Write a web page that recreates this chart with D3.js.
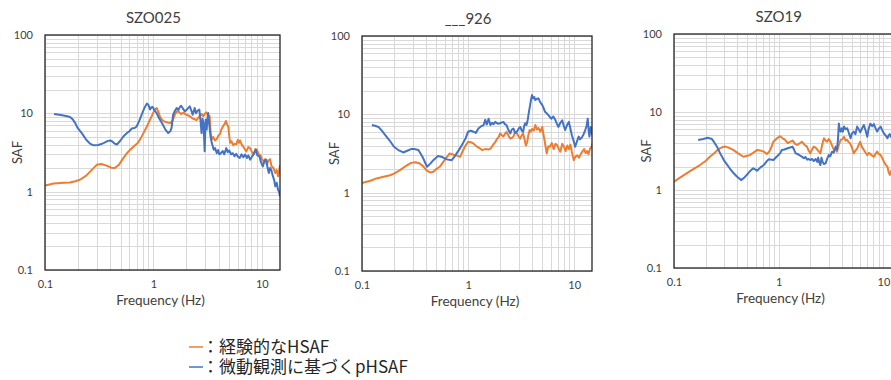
<!DOCTYPE html>
<html>
<head>
<meta charset="utf-8">
<script src="https://cdn.jsdelivr.net/npm/d3@7"></script>
<style>
  html, body { margin: 0; padding: 0; background: #fff; }
  svg { display: block; }
</style>
</head>
<body>
<svg id="chart" width="891" height="380"></svg>
<script>
// Station titles
const stationTitles = ["SZO025", "___926", "SZO19"];

// Axis tick labels
const xTickValues = [0.1, 1, 10];
const xTickLabels = ["0.1", "1", "10"];
const yTickValues = [0.1, 1, 10, 100];
const yTickLabels = ["0.1", "1", "10", "100"];

// Legend texts
const legendLabels = ["：経験的なHSAF", "：微動観測に基づくpHSAF"];

// SZO025 — empirical HSAF  [frequency Hz, SAF]
const hsafSZO025 = [[0.1,1.2],[0.12,1.27],[0.15,1.3],[0.17,1.31],[0.19,1.36],[0.21,1.42],[0.24,1.6],[0.27,1.9],[0.3,2.2],[0.33,2.26],[0.37,2.15],[0.41,2.02],[0.44,2.0],[0.48,2.2],[0.52,2.6],[0.57,3.1],[0.62,3.5],[0.67,3.85],[0.72,4.2],[0.77,4.9],[0.82,5.8],[0.87,6.8],[0.92,8.0],[0.96,9.1],[1.0,10.3],[1.04,11.3],[1.07,11.7],[1.11,10.5],[1.15,9.0],[1.2,8.3],[1.25,7.9],[1.33,7.7],[1.42,7.5],[1.5,8.0],[1.56,9.3],[1.64,10.6],[1.72,10.4],[1.8,9.8],[1.89,10.2],[2.0,9.6],[2.1,9.4],[2.2,9.0],[2.3,8.6],[2.4,8.4],[2.5,8.2],[2.6,8.8],[2.7,9.4],[2.78,9.8],[2.88,9.2],[2.98,9.9],[3.08,10.3],[3.18,9.4],[3.3,9.2],[3.36,6.0],[3.43,4.6],[3.55,5.0],[3.7,4.5],[3.84,4.7],[3.97,5.2],[4.1,5.4],[4.25,6.3],[4.4,6.9],[4.55,7.4],[4.66,8.0],[4.78,7.2],[4.9,6.8],[5.0,5.2],[5.1,4.2],[5.25,4.4],[5.45,3.9],[5.65,4.1],[5.8,4.0],[6.0,4.6],[6.15,4.2],[6.3,4.5],[6.5,4.0],[6.7,3.8],[6.95,3.5],[7.2,3.27],[7.5,3.7],[7.8,3.6],[8.1,3.2],[8.4,3.0],[8.7,3.5],[9.0,3.43],[9.35,3.0],[9.7,2.9],[10.0,2.6],[10.4,2.44],[10.75,2.6],[11.1,2.2],[11.5,2.5],[11.9,2.6],[12.3,2.1],[12.8,2.0],[13.3,1.73],[13.7,1.9],[14.1,1.57],[14.4,1.8],[14.7,2.2]];

// SZO025 — microtremor-based pHSAF
const phsafSZO025 = [[0.121,9.8],[0.14,9.5],[0.16,9.2],[0.17,9.0],[0.18,8.4],[0.19,7.5],[0.2,6.5],[0.22,5.5],[0.24,4.6],[0.26,4.1],[0.28,3.9],[0.31,3.95],[0.33,4.05],[0.35,4.2],[0.38,4.45],[0.4,4.5],[0.42,4.35],[0.44,4.1],[0.46,4.0],[0.49,4.4],[0.53,5.1],[0.57,5.6],[0.6,5.9],[0.63,6.4],[0.67,6.5],[0.7,6.8],[0.74,8.0],[0.78,9.6],[0.82,11.5],[0.87,13.3],[0.9,12.8],[0.93,11.2],[0.96,12.0],[0.98,12.1],[1.02,11.0],[1.07,10.1],[1.11,9.0],[1.15,8.3],[1.22,7.2],[1.29,6.2],[1.37,5.6],[1.43,5.9],[1.47,6.5],[1.52,9.6],[1.58,10.8],[1.64,11.7],[1.7,11.0],[1.75,12.0],[1.8,12.5],[1.87,11.5],[1.95,10.6],[2.05,11.3],[2.16,12.3],[2.23,11.0],[2.3,9.6],[2.35,10.5],[2.4,11.7],[2.47,10.0],[2.55,10.8],[2.65,11.2],[2.72,8.0],[2.78,5.6],[2.84,8.5],[2.9,7.3],[2.97,3.27],[3.03,8.3],[3.07,7.0],[3.1,6.2],[3.15,8.5],[3.2,10.1],[3.28,7.0],[3.36,5.1],[3.45,4.2],[3.6,3.43],[3.7,3.6],[3.84,3.1],[3.95,3.4],[4.05,3.0],[4.2,3.1],[4.35,3.3],[4.5,3.0],[4.7,3.6],[4.85,3.2],[5.0,3.35],[5.2,3.0],[5.4,3.1],[5.6,2.83],[5.8,3.05],[6.0,2.8],[6.25,2.7],[6.5,3.0],[6.75,2.75],[7.0,2.97],[7.3,2.7],[7.5,2.9],[7.8,2.56],[8.1,2.8],[8.4,3.0],[8.8,3.43],[9.1,2.9],[9.5,2.83],[9.8,2.4],[10.2,2.1],[10.6,2.5],[11.0,2.56],[11.3,2.0],[11.6,1.73],[11.9,2.0],[12.2,1.9],[12.6,1.6],[13.0,1.4],[13.3,1.17],[13.7,1.3],[14.1,1.06],[14.4,1.0],[14.7,0.87]];

// ___926 — empirical HSAF
const hsaf926 = [[0.1,1.33],[0.12,1.42],[0.137,1.52],[0.16,1.6],[0.184,1.67],[0.2,1.75],[0.228,1.94],[0.26,2.2],[0.29,2.4],[0.32,2.45],[0.35,2.36],[0.38,2.15],[0.41,1.9],[0.44,1.81],[0.47,1.85],[0.5,2.0],[0.54,2.14],[0.6,2.6],[0.67,3.17],[0.71,3.1],[0.75,3.0],[0.8,2.95],[0.84,2.87],[0.89,3.4],[0.93,3.85],[0.97,4.2],[1.0,4.46],[1.06,4.4],[1.12,4.25],[1.2,3.9],[1.28,3.7],[1.35,3.5],[1.45,3.6],[1.56,3.55],[1.64,3.7],[1.72,4.1],[1.8,4.4],[1.88,4.9],[1.95,5.2],[2.0,5.7],[2.08,5.4],[2.15,5.2],[2.22,5.6],[2.3,6.0],[2.4,5.3],[2.5,4.9],[2.58,5.0],[2.67,5.2],[2.77,5.9],[2.88,5.7],[3.0,5.2],[3.1,4.9],[3.2,5.4],[3.3,5.7],[3.4,4.8],[3.5,4.0],[3.6,4.4],[3.7,5.5],[3.8,6.3],[3.9,6.0],[4.0,6.5],[4.15,6.2],[4.3,7.3],[4.45,6.4],[4.6,6.7],[4.8,6.0],[5.0,6.9],[5.1,5.8],[5.2,5.0],[5.35,4.0],[5.5,3.17],[5.7,3.9],[5.9,3.85],[6.15,4.3],[6.4,3.6],[6.65,4.2],[6.9,4.05],[7.15,3.6],[7.4,3.33],[7.7,4.2],[8.0,3.85],[8.3,3.4],[8.6,4.0],[8.9,3.6],[9.2,4.1],[9.5,3.3],[9.9,2.6],[10.3,2.9],[10.7,3.0],[11.1,2.8],[11.5,3.1],[12.0,3.4],[12.4,3.6],[12.8,3.2],[13.2,3.4],[13.6,3.1],[14.1,3.67],[14.5,3.8],[14.8,4.2]];

// ___926 — microtremor-based pHSAF
const phsaf926 = [[0.124,7.3],[0.135,7.1],[0.143,6.9],[0.155,6.1],[0.17,5.2],[0.185,4.5],[0.2,3.85],[0.22,3.5],[0.245,3.26],[0.27,3.45],[0.29,3.6],[0.31,3.6],[0.34,3.5],[0.37,2.9],[0.41,2.14],[0.44,2.35],[0.47,2.6],[0.52,2.93],[0.57,2.85],[0.63,2.66],[0.7,2.6],[0.74,2.85],[0.78,3.17],[0.84,3.7],[0.89,4.25],[0.95,5.0],[1.0,6.0],[1.06,6.2],[1.12,6.0],[1.18,5.8],[1.25,6.6],[1.32,7.0],[1.4,7.3],[1.45,8.5],[1.5,7.4],[1.56,8.8],[1.62,7.3],[1.68,7.8],[1.74,7.5],[1.8,8.0],[1.9,7.6],[2.0,7.7],[2.08,7.9],[2.15,8.0],[2.22,7.5],[2.3,7.3],[2.4,6.3],[2.5,5.7],[2.58,6.4],[2.67,6.6],[2.77,5.8],[2.88,6.0],[3.0,6.6],[3.1,6.9],[3.2,6.2],[3.3,6.0],[3.38,7.2],[3.45,7.7],[3.55,7.3],[3.65,8.6],[3.75,11.0],[3.84,13.1],[3.92,15.5],[4.0,17.6],[4.1,16.0],[4.2,16.6],[4.3,15.2],[4.45,15.8],[4.6,16.0],[4.75,14.5],[5.0,13.1],[5.15,12.0],[5.3,10.8],[5.5,10.3],[5.7,9.8],[5.9,9.2],[6.1,8.8],[6.35,9.4],[6.6,8.6],[6.85,7.6],[7.1,6.9],[7.4,7.8],[7.7,8.4],[7.95,7.2],[8.2,6.3],[8.55,7.3],[8.9,8.0],[9.2,6.6],[9.5,5.4],[9.85,4.6],[10.2,3.85],[10.6,4.5],[11.0,5.2],[11.35,4.8],[11.7,5.0],[12.2,5.5],[12.7,6.3],[13.1,7.2],[13.4,8.8],[13.7,6.0],[13.9,5.2],[14.3,6.9],[14.6,6.2],[14.8,5.4]];

// SZO19 — empirical HSAF
const hsafSZO19 = [[0.1,1.28],[0.115,1.45],[0.132,1.63],[0.15,1.82],[0.177,2.09],[0.2,2.35],[0.22,2.67],[0.245,3.0],[0.266,3.35],[0.29,3.55],[0.31,3.6],[0.34,3.45],[0.37,3.25],[0.41,2.95],[0.46,2.67],[0.5,2.75],[0.53,2.8],[0.57,3.0],[0.62,3.25],[0.67,3.2],[0.72,3.1],[0.77,2.9],[0.81,3.1],[0.84,3.4],[0.89,4.16],[0.96,4.6],[1.03,4.9],[1.09,4.6],[1.15,4.4],[1.22,4.0],[1.29,4.16],[1.36,4.3],[1.43,3.9],[1.5,3.78],[1.58,3.95],[1.66,4.16],[1.76,3.8],[1.86,3.6],[1.93,3.2],[2.0,2.95],[2.08,3.3],[2.16,3.6],[2.25,3.5],[2.33,3.3],[2.42,3.1],[2.5,2.95],[2.6,3.8],[2.7,4.6],[2.8,4.3],[2.9,4.16],[3.0,4.5],[3.1,4.2],[3.23,3.7],[3.37,3.25],[3.5,3.3],[3.6,3.1],[3.75,3.8],[3.9,4.4],[4.05,4.5],[4.2,4.8],[4.35,4.3],[4.5,4.4],[4.65,4.1],[4.8,3.97],[5.0,3.5],[5.2,2.95],[5.4,3.2],[5.6,3.4],[5.8,3.8],[6.0,4.16],[6.2,3.6],[6.5,3.25],[6.75,3.0],[7.0,2.8],[7.25,3.0],[7.5,2.9],[7.8,2.75],[8.1,2.67],[8.4,2.9],[8.7,3.1],[9.0,2.9],[9.4,2.8],[9.7,2.6],[10.1,2.3],[10.5,2.1],[10.9,1.99],[11.2,1.7],[11.5,1.56],[11.8,1.75],[12.1,1.8],[12.6,1.7],[13.2,1.9],[13.8,1.8],[14.7,1.9]];

// SZO19 — microtremor-based pHSAF
const phsafSZO19 = [[0.17,4.37],[0.19,4.5],[0.21,4.68],[0.23,4.5],[0.24,4.16],[0.26,3.5],[0.276,2.95],[0.3,2.4],[0.34,1.9],[0.37,1.65],[0.4,1.48],[0.44,1.34],[0.47,1.45],[0.51,1.63],[0.54,1.78],[0.57,1.9],[0.6,1.82],[0.62,1.77],[0.67,1.95],[0.72,2.09],[0.76,2.3],[0.8,2.47],[0.86,2.45],[0.89,2.42],[0.95,2.65],[1.03,2.95],[1.07,3.25],[1.13,3.3],[1.2,3.4],[1.28,3.5],[1.35,3.6],[1.4,3.3],[1.45,2.95],[1.51,2.9],[1.57,2.8],[1.65,2.7],[1.74,2.55],[1.8,2.65],[1.87,2.45],[1.94,2.5],[2.0,2.42],[2.08,2.5],[2.16,2.35],[2.25,2.5],[2.33,2.3],[2.38,2.6],[2.44,2.25],[2.5,2.09],[2.56,2.6],[2.62,2.3],[2.7,2.15],[2.8,2.2],[2.9,2.5],[3.0,2.8],[3.1,2.7],[3.23,3.1],[3.35,3.0],[3.5,3.6],[3.6,3.3],[3.68,4.5],[3.75,7.1],[3.82,6.0],[3.9,5.6],[4.0,6.2],[4.1,5.6],[4.2,6.5],[4.35,6.0],[4.5,6.2],[4.65,5.5],[4.85,4.6],[5.0,5.3],[5.2,5.6],[5.4,5.2],[5.6,6.5],[5.8,6.0],[6.0,5.5],[6.25,6.2],[6.5,6.8],[6.75,5.8],[7.0,4.8],[7.2,6.0],[7.5,7.1],[7.8,6.6],[8.1,7.0],[8.4,6.2],[8.7,5.6],[9.0,6.1],[9.4,6.5],[9.7,5.9],[10.1,5.3],[10.5,5.0],[10.9,4.6],[11.2,5.0],[11.5,5.2],[11.8,4.8],[12.1,4.9],[12.6,5.2],[13.2,4.8],[13.8,5.0],[14.7,4.9]];

const hsafSeries = [hsafSZO025, hsaf926, hsafSZO19];
const phsafSeries = [phsafSZO025, phsaf926, phsafSZO19];

const COLOR_HSAF = "#ED7D31";
const COLOR_PHSAF = "#4472C4";
const LATIN = "Lato, 'Open Sans', sans-serif";

// Plot-area frames for the three panels
const frames = [
  { left: 45,  right: 280, top: 35, bottom: 270 },
  { left: 362, right: 592, top: 36, bottom: 271 },
  { left: 674, right: 901, top: 34, bottom: 268 }
];

const svg = d3.select("#chart");
svg.append("rect").attr("width", 891).attr("height", 380).attr("fill", "#fff");

const minorX = [];
[0.1, 1, 10].forEach(d => { for (let k = 1; k <= 9; k++) { const v = d * k; if (v <= 14.7) minorX.push(v); } });
const minorY = [];
[0.1, 1, 10].forEach(d => { for (let k = 1; k <= 9; k++) minorY.push(d * k); });
minorY.push(100);

frames.forEach((f, i) => {
  const x = d3.scaleLog().domain([0.1, 14.7]).range([f.left, f.right]);
  const y = d3.scaleLog().domain([0.1, 100]).range([f.bottom, f.top]);
  const g = svg.append("g");

  // grid
  g.append("g").selectAll("line").data(minorY).join("line")
    .attr("x1", f.left).attr("x2", f.right)
    .attr("y1", d => Math.round(y(d)) + 0.5).attr("y2", d => Math.round(y(d)) + 0.5)
    .attr("stroke", "#d9d9d9").attr("stroke-width", 1);
  g.append("g").selectAll("line").data(minorX).join("line")
    .attr("y1", f.top).attr("y2", f.bottom)
    .attr("x1", d => Math.round(x(d)) + 0.5).attr("x2", d => Math.round(x(d)) + 0.5)
    .attr("stroke", "#d9d9d9").attr("stroke-width", 1);

  // series
  const clipId = "clip" + i;
  svg.append("clipPath").attr("id", clipId).append("rect")
    .attr("x", f.left).attr("y", f.top).attr("width", f.right - f.left).attr("height", f.bottom - f.top);
  const line = d3.line().x(d => x(d[0])).y(d => y(d[1]));
  const lines = g.append("g").attr("clip-path", `url(#${clipId})`);
  lines.append("path").datum(hsafSeries[i]).attr("d", line)
    .attr("fill", "none").attr("stroke", COLOR_HSAF).attr("stroke-width", 2).attr("stroke-linejoin", "round");
  lines.append("path").datum(phsafSeries[i]).attr("d", line)
    .attr("fill", "none").attr("stroke", COLOR_PHSAF).attr("stroke-width", 2).attr("stroke-linejoin", "round");

  // frame
  g.append("rect").attr("x", f.left).attr("y", f.top)
    .attr("width", f.right - f.left).attr("height", f.bottom - f.top)
    .attr("fill", "none").attr("stroke", "#262626").attr("stroke-width", 1.3);

  // axes (labels only)
  const xAxis = d3.axisBottom(x).tickValues(xTickValues)
    .tickFormat((d, k) => xTickLabels[k]).tickSize(0).tickPadding(10);
  const xa = g.append("g").attr("transform", `translate(0,${f.bottom})`).call(xAxis);
  xa.select(".domain").remove();
  xa.selectAll("text").attr("font-family", LATIN).attr("font-size", 11).attr("fill", "#404040");

  const yAxis = d3.axisLeft(y).tickValues(yTickValues)
    .tickFormat((d, k) => yTickLabels[k]).tickSize(0).tickPadding(12);
  const ya = g.append("g").attr("transform", `translate(${f.left},0)`).call(yAxis);
  ya.select(".domain").remove();
  ya.selectAll("text").attr("font-family", LATIN).attr("font-size", 11).attr("fill", "#404040");

  // titles
  g.append("text").attr("x", x(1)).attr("y", f.top - 12)
    .attr("text-anchor", "middle").attr("font-family", LATIN).attr("font-size", 15)
    .attr("fill", "#404040").text(stationTitles[i]);
  g.append("text")
    .attr("transform", `translate(${f.left - 23},${(f.top + f.bottom) / 2}) rotate(-90)`)
    .attr("text-anchor", "middle").attr("font-family", LATIN).attr("font-size", 13)
    .attr("fill", "#404040").text("SAF");
  g.append("text").attr("x", (f.left + Math.min(f.right, 891)) / 2 + (i === 2 ? -2 : -2)).attr("y", f.bottom + 35)
    .attr("text-anchor", "middle").attr("font-family", LATIN).attr("font-size", 13.5)
    .attr("fill", "#404040").text("Frequency (Hz)");
});

// legend
const legend = svg.append("g");
[COLOR_HSAF, COLOR_PHSAF].forEach((c, k) => {
  const yy = 347 + k * 20;
  legend.append("line").attr("x1", 189).attr("x2", 203).attr("y1", yy).attr("y2", yy)
    .attr("stroke", c).attr("stroke-width", 1.5);
  legend.append("text").attr("x", 202).attr("y", yy + 6)
    .attr("font-family", "'Noto Sans CJK JP', sans-serif").attr("font-size", 17)
    .attr("fill", "#262626").text(legendLabels[k]);
});
</script>
</body>
</html>
